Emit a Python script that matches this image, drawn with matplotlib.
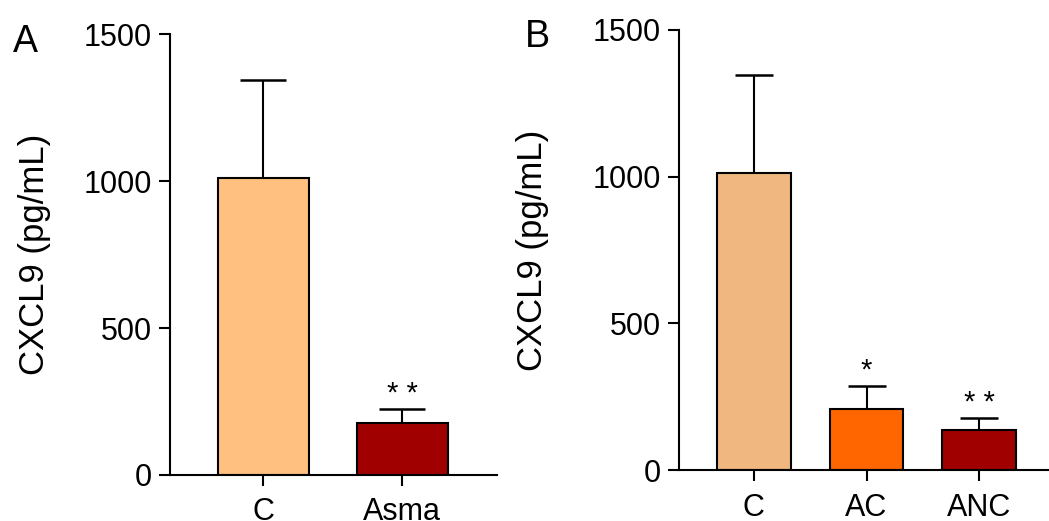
import matplotlib
matplotlib.use('Agg')
import matplotlib.pyplot as plt

plt.rcParams['font.family'] = ['Liberation Sans', 'DejaVu Sans']

# Panel A
cats_a = ['C', 'Asma']
vals_a = [1010, 176]
err_a = [334, 48]
colors_a = ['#FFC080', '#A00000']
stars_a = ['', '* *']

# Panel B
cats_b = ['C', 'AC', 'ANC']
vals_b = [1012, 208, 137]
err_b = [334, 79, 41]
colors_b = ['#F0B880', '#FF6600', '#A00000']
stars_b = ['', '*', '* *']

fig = plt.figure(figsize=(10.49, 5.21), dpi=100)
ax_a = fig.add_axes([0.162, 0.0883, 0.3117, 0.8464])
ax_b = fig.add_axes([0.647, 0.0973, 0.353, 0.8457])


def draw(ax, cats, vals, errs, colors, stars, xlim, capsize):
    x = range(len(cats))
    ax.bar(x, vals, width=0.655, color=colors, edgecolor='black', linewidth=1.5, zorder=2)
    ax.errorbar(x, vals, yerr=[[0] * len(vals), errs], fmt='none', ecolor='black',
                elinewidth=1.5, capsize=capsize, capthick=1.8, zorder=1)
    # asteriscos de significancia
    for i, s in enumerate(stars):
        if s:
            ax.text(i, vals[i] + errs[i] + 5, s, ha='center', va='bottom', fontsize=21)
    ax.set_xlim(*xlim)
    ax.set_ylim(0, 1500)
    ax.set_yticks([0, 500, 1000, 1500])
    ax.set_xticks(list(x))
    ax.set_xticklabels(cats)
    ax.spines['top'].set_visible(False)
    ax.spines['right'].set_visible(False)
    ax.spines['left'].set_linewidth(1.5)
    ax.spines['bottom'].set_linewidth(1.5)
    ax.tick_params(axis='both', labelsize=22, width=1.5, length=8, pad=5)
    ax.tick_params(axis='x', pad=8)
    ax.set_ylabel('CXCL9 (pg/mL)', fontsize=25)


draw(ax_a, cats_a, vals_a, err_a, colors_a, stars_a, (-0.673, 1.68), 16.5)
draw(ax_b, cats_b, vals_b, err_b, colors_b, stars_b, (-0.668, 2.62), 13.5)

ax_a.yaxis.set_label_coords(-0.364, 0.5)
ax_b.yaxis.set_label_coords(-0.350, 0.5)

fig.text(13 / 1049, 1 - 52 / 521, 'A', fontsize=27, va='baseline')
fig.text(525 / 1049, 1 - 47 / 521, 'B', fontsize=27, va='baseline')

fig.savefig('out.png', dpi=100)
